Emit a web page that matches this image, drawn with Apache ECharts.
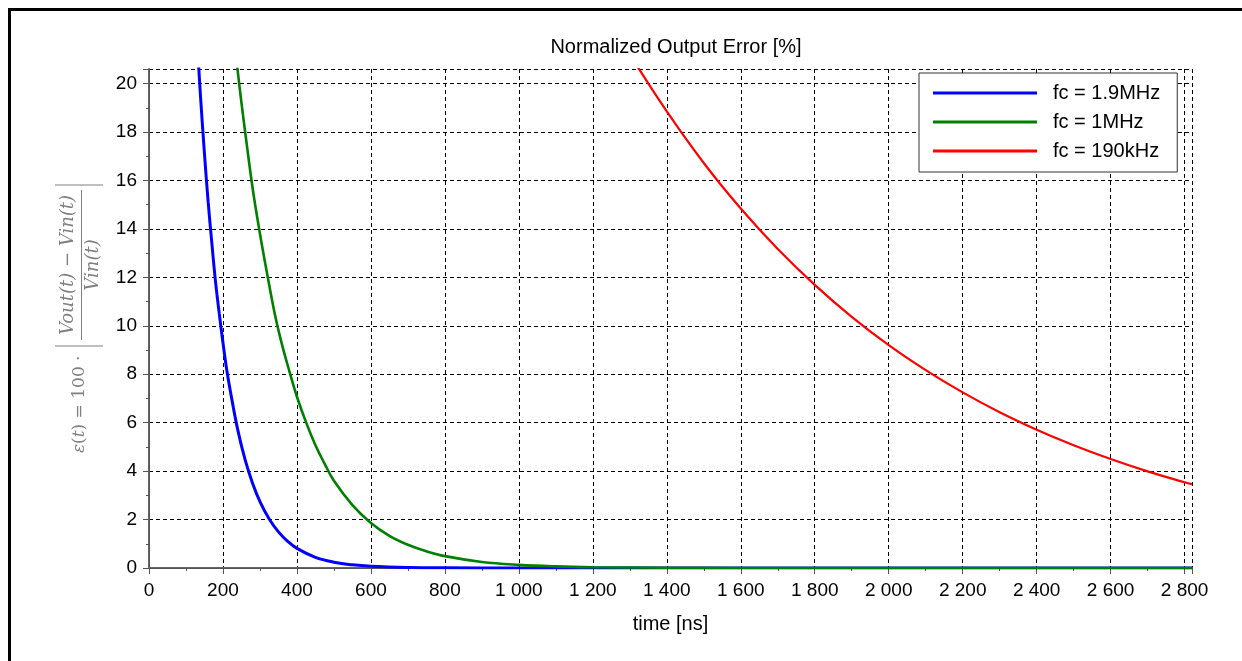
<!DOCTYPE html>
<html>
<head>
<meta charset="utf-8">
<title>Normalized Output Error</title>
<script src="https://cdn.jsdelivr.net/npm/echarts@6.0.0/dist/echarts.min.js"></script>
<style>
    html, body { margin: 0; padding: 0; background: #fff; }
    #chart { width: 1242px; height: 661px; }
</style>
</head>
<body>
<div id="chart"></div>
<script>
// fc = 1.9MHz
var blueT = [130, 140, 150, 160, 170, 180, 190, 200, 210, 220, 240, 260, 280, 300, 325, 350, 375, 400, 450, 500, 550, 600, 700, 800, 1000, 1400, 2000, 2820];
var blueV = [21.8, 19.3, 17.1, 15.1, 13.4, 11.8, 10.5, 9.3, 8.2, 7.3, 5.7, 4.46, 3.5, 2.74, 2.02, 1.49, 1.1, 0.81, 0.44, 0.24, 0.13, 0.07, 0.021, 0.006, 0.001, 0, 0, 0];
// fc = 1MHz
var greenT = [235, 240, 250, 260, 280, 300, 320, 340, 360, 380, 400, 425, 450, 475, 500, 550, 600, 650, 700, 750, 800, 900, 1000, 1100, 1200, 1400, 1600, 2000, 2820];
var greenV = [21.2, 20.5, 19.2, 18.0, 15.7, 13.8, 12.1, 10.5, 9.2, 8.1, 7.07, 6.0, 5.07, 4.3, 3.6, 2.6, 1.86, 1.33, 0.96, 0.69, 0.49, 0.25, 0.13, 0.066, 0.034, 0.009, 0.002, 0, 0];
// fc = 190kHz
var redT = [1300, 1400, 1500, 1600, 1700, 1800, 1900, 2000, 2100, 2200, 2300, 2400, 2500, 2600, 2700, 2800, 2820];
var redV = [21.2, 18.85, 16.72, 14.84, 13.17, 11.69, 10.37, 9.2, 8.17, 7.25, 6.43, 5.71, 5.07, 4.5, 3.99, 3.54, 3.46];

var seriesNames = ['fc = 1.9MHz', 'fc = 1MHz', 'fc = 190kHz'];
var seriesColors = ['#0000ff', '#008000', '#ff0000'];

function zip(t, v) {
    var out = [];
    for (var i = 0; i < t.length; i++) out.push([t[i], v[i]]);
    return out;
}

function thousands(v) {
    return String(v).replace(/\B(?=(\d{3})+$)/g, ' ');
}

var font = 'Liberation Sans';
var gray = '#808080';

var myChart = echarts.init(document.getElementById('chart'));

var option = {
    animation: false,
    backgroundColor: '#fff',
    title: {
        text: 'Normalized Output Error [%]',
        left: 671,
        top: 32,
        textAlign: 'center',
        textStyle: { fontFamily: font, fontSize: 20, fontWeight: 'normal', color: '#000' }
    },
    legend: {
        orient: 'vertical',
        left: 919,
        top: 73,
        data: seriesNames,
        icon: 'rect',
        itemWidth: 104,
        itemHeight: 3,
        itemGap: 9,
        padding: [10, 17, 11, 14],
        backgroundColor: '#fff',
        borderColor: '#333',
        borderWidth: 1,
        textStyle: { fontFamily: font, fontSize: 20, color: '#000', lineHeight: 20, padding: [0, 0, 0, 11] }
    },
    grid: { left: 149, top: 69, right: 50, bottom: 93 },
    xAxis: [{
        type: 'value',
        min: 0,
        max: 2820,
        interval: 200,
        name: 'time [ns]',
        nameLocation: 'middle',
        nameGap: 46,
        nameTextStyle: { fontFamily: font, fontSize: 20, color: '#000' },
        axisLine: { lineStyle: { color: '#666', width: 2 } },
        axisTick: { length: 6, lineStyle: { color: '#555' } },
        minorTick: { show: true, splitNumber: 2, length: 3, lineStyle: { color: '#555' } },
        axisLabel: {
            margin: 13,
            showMinLabel: true,
            showMaxLabel: false,
            fontFamily: font,
            fontSize: 19,
            color: '#000',
            formatter: function (v) { return thousands(v); }
        },
        splitLine: { show: true, lineStyle: { color: '#000', width: 1, type: [4, 3] } }
    }, {
        type: 'value',
        position: 'top',
        min: 0,
        max: 2820,
        interval: 200,
        axisLine: { show: true, lineStyle: { color: '#555', width: 1 } },
        axisTick: { show: true, inside: true, length: 5, lineStyle: { color: '#555' } },
        axisLabel: { show: false },
        splitLine: { show: false }
    }],
    yAxis: [{
        type: 'value',
        min: 0,
        max: 20.6,
        interval: 2,
        axisLine: { show: true, lineStyle: { color: '#666', width: 2 } },
        axisTick: { show: true, length: 6, lineStyle: { color: '#555' } },
        minorTick: { show: true, splitNumber: 2, length: 3, lineStyle: { color: '#555' } },
        axisLabel: {
            margin: 12,
            showMaxLabel: false,
            fontFamily: font,
            fontSize: 19,
            color: '#000'
        },
        splitLine: { show: true, lineStyle: { color: '#000', width: 1, type: [4, 3] } }
    }, {
        type: 'value',
        position: 'right',
        min: 0,
        max: 20.6,
        interval: 2,
        axisLine: { show: true, lineStyle: { color: '#555', width: 1 } },
        axisTick: { show: true, inside: true, length: 5, lineStyle: { color: '#555' } },
        axisLabel: { show: false },
        splitLine: { show: false }
    }],
    series: [
        { name: seriesNames[0], type: 'line', data: zip(blueT, blueV), smooth: 0.4, showSymbol: false, color: seriesColors[0], lineStyle: { width: 3 } },
        { name: seriesNames[1], type: 'line', data: zip(greenT, greenV), smooth: 0.4, showSymbol: false, color: seriesColors[1], lineStyle: { width: 2.6 } },
        { name: seriesNames[2], type: 'line', data: zip(redT, redV), smooth: 0.4, showSymbol: false, color: seriesColors[2], lineStyle: { width: 2.2 } }
    ],
    graphic: [
        // frame
        { type: 'line', shape: { x1: 8, y1: 9.5, x2: 1242, y2: 9.5 }, style: { stroke: '#000', lineWidth: 3 } },
        { type: 'line', shape: { x1: 9.5, y1: 8, x2: 9.5, y2: 661 }, style: { stroke: '#000', lineWidth: 3 } },
        // y axis label: eps(t) = 100 . |(Vout(t) - Vin(t)) / Vin(t)|
        {
            type: 'group',
            x: 80,
            y: 453,
            rotation: Math.PI / 2,
            children: [
                {
                    type: 'text', x: 0, y: 0,
                    style: {
                        text: '{i|ε}({i|t}) = 100 ·',
                        rich: { i: { fontStyle: 'italic', fontFamily: 'DejaVu Serif', fontSize: 17, fill: gray } },
                        fontFamily: 'DejaVu Serif', fontSize: 17, fill: gray,
                        align: 'left', verticalAlign: 'middle'
                    }
                },
                { type: 'line', shape: { x1: 107, y1: -25, x2: 107, y2: 23 }, style: { stroke: gray, lineWidth: 1.2 } },
                { type: 'line', shape: { x1: 268, y1: -25, x2: 268, y2: 23 }, style: { stroke: gray, lineWidth: 1.2 } },
                { type: 'line', shape: { x1: 113, y1: 1.5, x2: 263, y2: 1.5 }, style: { stroke: gray, lineWidth: 1 } },
                {
                    type: 'text', x: 188, y: -12,
                    style: {
                        text: 'Vout(t) − Vin(t)',
                        fontFamily: 'DejaVu Serif', fontStyle: 'italic', fontSize: 18, fill: gray,
                        align: 'center', verticalAlign: 'middle'
                    }
                },
                {
                    type: 'text', x: 188, y: 13,
                    style: {
                        text: 'Vin(t)',
                        fontFamily: 'DejaVu Serif', fontStyle: 'italic', fontSize: 18, fill: gray,
                        align: 'center', verticalAlign: 'middle'
                    }
                }
            ]
        }
    ]
};

myChart.setOption(option, true);
</script>
</body>
</html>
